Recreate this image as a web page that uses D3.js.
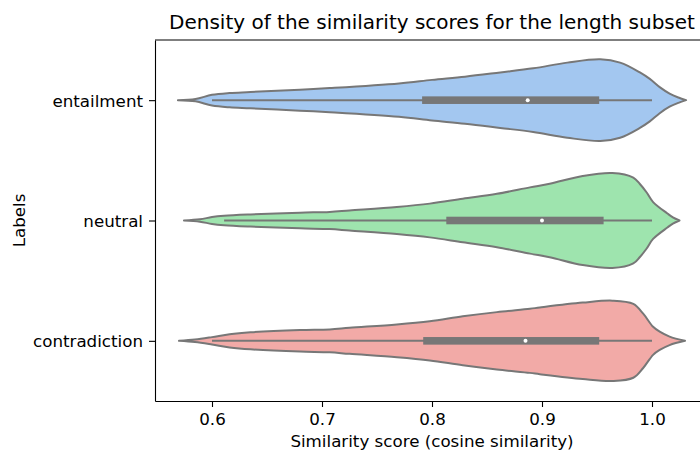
<!DOCTYPE html>
<html>
<head>
<meta charset="utf-8">
<script src="https://cdn.jsdelivr.net/npm/d3@7"></script>
<style>
  body { margin: 0; background: #fff; }
  svg text { font-family: "DejaVu Sans", sans-serif; fill: #000; }
</style>
</head>
<body>
<div id="chart"></div>
<script>
// violin chart of similarity scores per label

const labels = ["entailment", "neutral", "contradiction"];
const colors = ["#a3c7f0", "#9ee4ae", "#f2aaa7"];
const xTicks = [0.6, 0.7, 0.8, 0.9, 1.0];

// KDE outlines (score, relative density)
const entailmentScore = [0.569, 0.585, 0.600, 0.616, 0.635, 0.680, 0.707, 0.770, 0.800, 0.830, 0.862, 0.892, 0.923, 0.953, 0.971, 0.989, 0.998, 1.007, 1.016, 1.024, 1.031];
const entailmentDensity = [0, 0.025, 0.113, 0.151, 0.171, 0.221, 0.254, 0.351, 0.427, 0.495, 0.584, 0.670, 0.790, 0.860, 0.790, 0.584, 0.447, 0.274, 0.138, 0.056, 0];

const neutralScore = [0.5745, 0.589, 0.600, 0.611, 0.635, 0.680, 0.707, 0.725, 0.768, 0.798, 0.828, 0.859, 0.889, 0.907, 0.937, 0.964, 0.983, 0.989, 0.995, 1.001, 1.014, 1.019, 1.025];
const neutralDensity = [0, 0.025, 0.072, 0.099, 0.128, 0.165, 0.181, 0.212, 0.285, 0.355, 0.458, 0.561, 0.697, 0.773, 0.938, 1.0, 0.903, 0.767, 0.594, 0.388, 0.148, 0.066, 0];

const contradictionScore = [0.570, 0.5845, 0.600, 0.616, 0.635, 0.680, 0.707, 0.725, 0.768, 0.798, 0.828, 0.859, 0.889, 0.898, 0.937, 0.964, 0.983, 0.992, 1.001, 1.007, 1.016, 1.030];
const contradictionDensity = [0, 0.027, 0.078, 0.138, 0.179, 0.227, 0.241, 0.274, 0.344, 0.412, 0.515, 0.604, 0.674, 0.701, 0.804, 0.845, 0.777, 0.571, 0.295, 0.192, 0.089, 0];

// box stats: [whisker low, q1, median, q3, whisker high]
const entailmentBox = [0.600, 0.791, 0.887, 0.952, 1.0];
const neutralBox = [0.611, 0.813, 0.900, 0.956, 1.0];
const contradictionBox = [0.600, 0.792, 0.885, 0.952, 1.0];

const series = [
  {label: "entailment", score: entailmentScore, density: entailmentDensity, box: entailmentBox},
  {label: "neutral", score: neutralScore, density: neutralDensity, box: neutralBox},
  {label: "contradiction", score: contradictionScore, density: contradictionDensity, box: contradictionBox}
];

const width = 700, height = 450;
const margin = {top: 40, right: -9, bottom: 49, left: 155};

const svg = d3.select("#chart").append("svg")
  .attr("width", width)
  .attr("height", height);

const x = d3.scaleLinear()
  .domain([0.6 - 57 / 1100, 0.6 + 497 / 1100])
  .range([margin.left, width - margin.right]);

const y = d3.scalePoint()
  .domain(labels)
  .range([margin.top, height - margin.bottom])
  .padding(0.5);

const w = d3.scaleLinear()
  .domain([0, 1])
  .range([0, y.step() * 0.395]);

const g = svg.append("g");

series.forEach((s, i) => {
  const cy = y(s.label);
  const pts = s.score.map((v, j) => [v, s.density[j]]);
  const area = d3.area()
    .x(d => x(d[0]))
    .y0(d => cy - w(d[1]))
    .y1(d => cy + w(d[1]))
    .curve(d3.curveCatmullRom.alpha(0.5));

  g.append("path")
    .attr("d", area(pts))
    .attr("fill", colors[i])
    .attr("stroke", "#777")
    .attr("stroke-width", 2)
    .attr("stroke-linejoin", "round");

  const [lo, q1, med, q3, hi] = s.box;
  g.append("line")
    .attr("x1", x(lo)).attr("x2", x(hi))
    .attr("y1", cy).attr("y2", cy)
    .attr("stroke", "#777")
    .attr("stroke-width", 2);
  g.append("rect")
    .attr("x", x(q1))
    .attr("y", cy - 3.8)
    .attr("width", x(q3) - x(q1))
    .attr("height", 7.6)
    .attr("fill", "#777");
  g.append("circle")
    .attr("cx", x(med))
    .attr("cy", cy)
    .attr("r", 2)
    .attr("fill", "#fff");
});

// axes
const xAxis = svg.append("g")
  .attr("transform", `translate(0,${height - margin.bottom})`)
  .call(d3.axisBottom(x).tickValues(xTicks).tickFormat(d3.format(".1f")).tickSizeInner(6).tickSizeOuter(0).tickPadding(6));

const yAxis = svg.append("g")
  .attr("transform", `translate(${margin.left},0)`)
  .call(d3.axisLeft(y).tickSizeInner(6).tickSizeOuter(0).tickPadding(6));

[xAxis, yAxis].forEach(a => {
  a.selectAll("path.domain").attr("stroke", "#000").attr("stroke-width", 1.1);
  a.selectAll(".tick line").attr("stroke", "#000").attr("stroke-width", 1.1);
  a.selectAll(".tick text").attr("font-size", "16.7px").attr("font-family", "DejaVu Sans").attr("fill", "#000");
});
xAxis.selectAll(".tick text").attr("dy", "0.71em");
yAxis.selectAll(".tick text").attr("dy", "0.36em");

// top spine
svg.append("line")
  .attr("x1", margin.left).attr("x2", width)
  .attr("y1", margin.top).attr("y2", margin.top)
  .attr("stroke", "#000").attr("stroke-width", 1.1);

svg.append("text")
  .attr("x", 432)
  .attr("y", 29)
  .attr("text-anchor", "middle")
  .attr("font-size", "20px")
  .text("Density of the similarity scores for the length subset");

svg.append("text")
  .attr("x", 432)
  .attr("y", 447)
  .attr("text-anchor", "middle")
  .attr("font-size", "16.7px")
  .text("Similarity score (cosine similarity)");

svg.append("text")
  .attr("transform", `translate(25,${y("neutral")}) rotate(-90)`)
  .attr("text-anchor", "middle")
  .attr("font-size", "16.7px")
  .text("Labels");
</script>
</body>
</html>
